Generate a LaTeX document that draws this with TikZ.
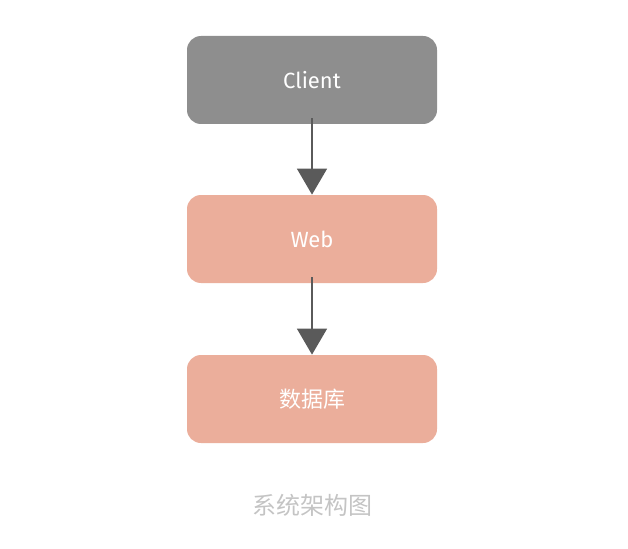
\documentclass[tikz,border=0pt]{standalone}
\usepackage{fontspec}
\setmainfont{Fira Sans}
\newfontfamily\cjk{Noto Sans CJK SC}
\usetikzlibrary{positioning,arrows.meta}
\definecolor{clientgray}{HTML}{8E8E8E}
\definecolor{boxpink}{HTML}{EBAE9B}
\definecolor{arrowgray}{HTML}{5A5A5A}
\definecolor{captiongray}{HTML}{C4C4C4}
\tikzset{every picture/.style={line width=0.75pt}}

\begin{document}
\begin{tikzpicture}[x=1pt,y=1pt,yscale=-1,xscale=1,
  layer/.style={rounded corners=14pt, minimum width=250pt, minimum height=88pt, text=white, font=\fontsize{22}{26}\selectfont},
  flow/.style={draw=arrowgray, line width=1.5pt, -{Triangle[width=30pt,length=26pt]}}]
	\useasboundingbox (0,0) rectangle (628,548);

	% Boxes
	\node [layer, fill=clientgray] (client) at (312,80) {Client};
	\node [layer, fill=boxpink] (web) at (312,239) {Web};
	\node [layer, fill=boxpink] (db) at (312,399) {\cjk 数据库};

	% Arrows
	\draw [flow] ([yshift=-6pt]client.south) -- (web.north);
	\draw [flow] ([yshift=-6pt]web.south) -- (db.north);

	% Caption
	\node [text=captiongray, font=\cjk\fontsize{24}{28}\selectfont] (caption) at (312,505) {系统架构图};
\end{tikzpicture}
\end{document}
